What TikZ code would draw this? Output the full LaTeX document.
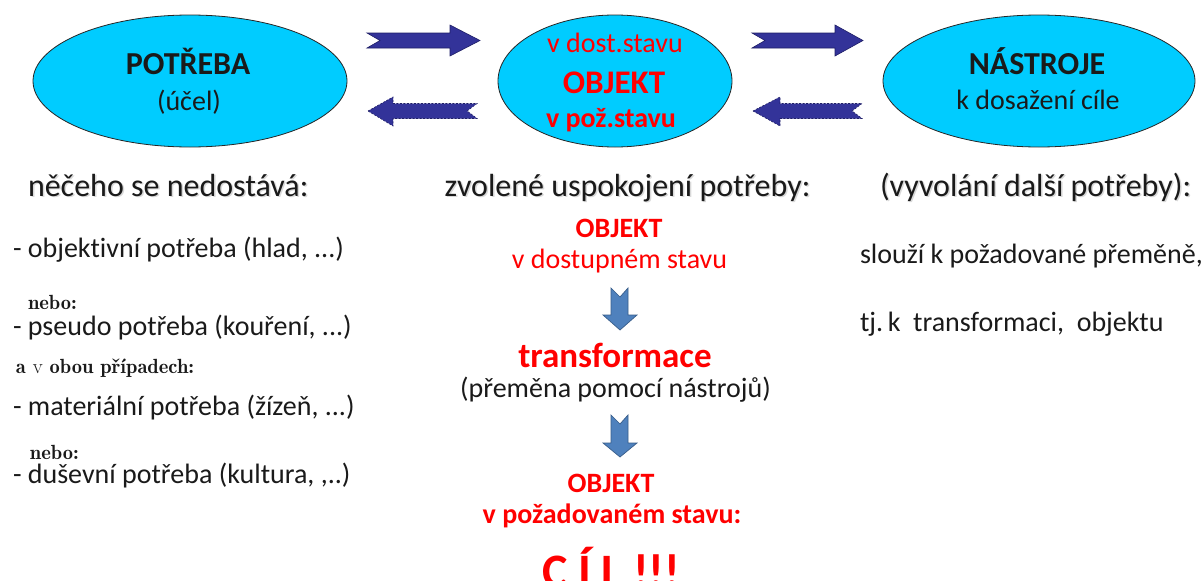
\documentclass[tikz,border=0pt]{standalone}
\usepackage{fontspec}
\setmainfont{Carlito}[Ligatures=NoCommon]
\usetikzlibrary{shapes.geometric}
\definecolor{cyanfill}{HTML}{00CCFF}
\definecolor{navy}{HTML}{333399}
\definecolor{navyline}{HTML}{1F1F66}
\definecolor{steel}{HTML}{4F81BD}
\definecolor{steelline}{HTML}{385D8A}
\definecolor{txt}{HTML}{1A1A1A}
\tikzset{
  ell/.style={ellipse, draw=black!85, fill=cyanfill, line width=0.8pt, inner sep=0pt},
  blockR/.style={fill=navy, draw=navyline, line width=0.6pt, line join=miter},
  blockL/.style={fill=navy, draw=navyline, line width=0.6pt, dashed, dash pattern=on 2pt off 1.5pt},
  blockD/.style={fill=steel, draw=steelline, line width=0.7pt},
  t/.style={inner sep=0pt, outer sep=0pt},
  head/.style={t, anchor=base west, text=txt, font=\fontsize{32}{38}\selectfont},
  headsh/.style={head, text=black!15},
  item/.style={t, anchor=base west, text=txt, font=\fontsize{28}{34}\selectfont},
  small/.style={t, anchor=base west, text=txt, font=\fontfamily{lmr}\fontsize{20.5}{24}\selectfont\bfseries},
  ctr/.style={t, anchor=base, font=\fontsize{28}{34}\selectfont},
  red/.style={text=red},
  blk/.style={text=txt},
}
\begin{document}
\begin{tikzpicture}[x=1pt, y=-1pt]
\useasboundingbox (0,0) rectangle (1203,581);
\fill[white] (0,0) rectangle (1203,581);

% ellipses
\node[ell, minimum width=314pt, minimum height=132pt] (pot) at (190,81) {};
\node[ell, minimum width=234pt, minimum height=132pt] (obj) at (615,81) {};
\node[ell, minimum width=312pt, minimum height=132pt] (nas) at (1039,81) {};

% ellipse texts
\node[ctr, blk, font=\fontsize{32}{38}\selectfont\bfseries] (potA) at (188,74) {POTŘEBA};
\node[ctr, blk] (potB) at (189,110) {(účel)};
\node[ctr, red] (objA) at (615,52) {v dost.stavu};
\node[ctr, red, font=\fontsize{33}{38}\selectfont\bfseries] (objB) at (614,93) {OBJEKT};
\node[ctr, red, font=\fontsize{28}{34}\selectfont\bfseries] (objC) at (611,127) {v pož.stavu};
\node[ctr, blk, font=\fontsize{32}{38}\selectfont\bfseries] (nasA) at (1037,74) {NÁSTROJE};
\node[ctr, blk] (nasB) at (1038,109) {k dosažení cíle};

% block arrows right (solid)
\draw[blockR] (367,33) -- (450,33) -- (450,25) -- (480,40.5) -- (450,56) -- (450,48) -- (367,48) -- (380,40.5) -- cycle;
\draw[blockR] (752,33) -- (835,33) -- (835,25) -- (863,40.5) -- (835,56) -- (835,48) -- (752,48) -- (765,40.5) -- cycle;
% block arrows left (dashed)
\draw[blockL] (368,111) -- (393,97) -- (393,103.5) -- (477,103.5) -- (467,111) -- (477,118.5) -- (393,118.5) -- (393,126) -- cycle;
\draw[blockL] (753,111) -- (780,97) -- (780,103.5) -- (862,103.5) -- (852,111) -- (862,118.5) -- (780,118.5) -- (780,126) -- cycle;

% left column
\node[headsh] (h1s) at (29.5,197.5) {něčeho se nedostává:};
\node[head] (h1) at (28,196) {něčeho se nedostává:};
\node[item] (l1) at (13,257) {- objektivní potřeba (hlad, ...)};
\node[small] (l2) at (28,309) {nebo:};
\node[item] (l3) at (13,335) {- pseudo potřeba (kouření, ...)};
\node[small] (l4) at (16,373) {a {\mdseries v} obou případech:};
\node[item] (l5) at (13,415) {- materiální potřeba (žízeň, ...)};
\node[small] (l6) at (30,459) {nebo:};
\node[item] (l7) at (13,483) {- duševní potřeba (kultura, ,..)};

% middle column
\node[headsh, anchor=base] (h2s) at (629,197.5) {zvolené uspokojení potřeby:};
\node[head, anchor=base] (h2) at (627.5,196) {zvolené uspokojení potřeby:};
\node[ctr, red, font=\fontsize{28}{34}\selectfont\bfseries] (m1) at (619,237) {OBJEKT};
\node[ctr, red] (m2) at (619.5,268) {v dostupném stavu};
\node[ctr, red, font=\fontsize{35}{42}\selectfont\bfseries] (m3) at (615,367) {transformace};
\node[ctr, blk] (m4) at (615.5,397) {(přeměna pomocí nástrojů)};
\node[ctr, red, font=\fontsize{28}{34}\selectfont\bfseries] (m5) at (611,492) {OBJEKT};
\node[ctr, red, font=\fontsize{28}{34}\selectfont\bfseries] (m6) at (612,523) {v požadovaném stavu:};
\node[ctr, red, font=\fontsize{48}{56}\selectfont\bfseries] (m7) at (611,587) {C Í L !!!};

% down arrows
\draw[blockD] (611,288) -- (620,297) -- (628,288) -- (628,315) -- (637,315) -- (620,330) -- (603,315) -- (611,315) -- cycle;
\draw[blockD] (611,415) -- (620,424) -- (628,415) -- (628,443) -- (637,443) -- (620,457) -- (603,443) -- (611,443) -- cycle;

% right column
\node[headsh] (h3s) at (881.5,197.5) {(vyvolání další potřeby):};
\node[head] (h3) at (880,196) {(vyvolání další potřeby):};
\node[item] (r1) at (860,263) {slouží k požadované přeměně,};
\node[item] (r2) at (860,331) {tj.\,k\ \ transformaci,\ \ objektu};
\end{tikzpicture}
\end{document}
